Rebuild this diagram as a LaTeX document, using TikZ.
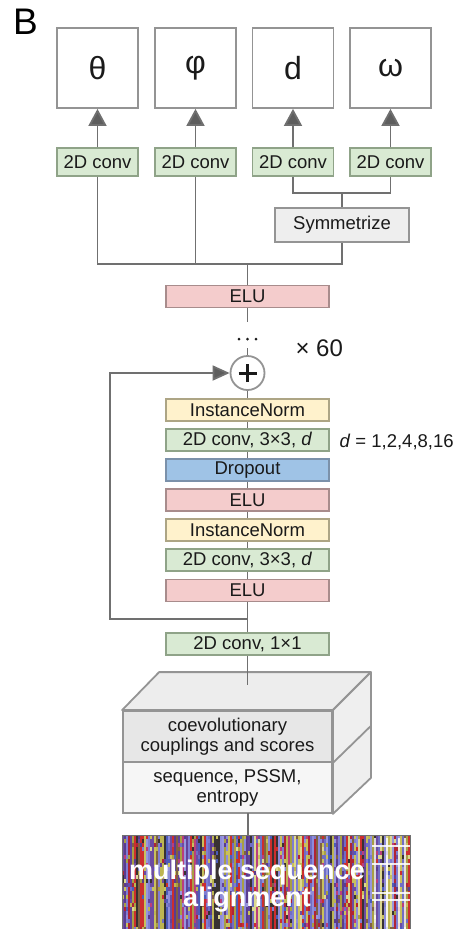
\documentclass[tikz,border=0pt]{standalone}
\usepackage{fontspec}
\setmainfont{Liberation Sans}
\usetikzlibrary{arrows.meta}

% palette
\definecolor{linegray}{HTML}{707070}
\definecolor{tipgray}{HTML}{5E5E5E}
\definecolor{boxline}{HTML}{949494}
\definecolor{convfill}{HTML}{D9EAD3}
\definecolor{convline}{HTML}{8FA388}
\definecolor{elufill}{HTML}{F4CCCC}
\definecolor{eluline}{HTML}{A88C8C}
\definecolor{normfill}{HTML}{FFF2CC}
\definecolor{normline}{HTML}{ADA585}
\definecolor{dropfill}{HTML}{9FC3E6}
\definecolor{dropline}{HTML}{7B91AA}
\definecolor{symfill}{HTML}{EEEEEE}
\definecolor{txt}{HTML}{1A1A1A}
\definecolor{cubetop}{HTML}{EDEDED}
\definecolor{cubeside}{HTML}{EFEFEF}
\definecolor{cubeupper}{HTML}{E7E7E7}
\definecolor{cubelower}{HTML}{F6F6F6}

% alignment stripe colours (repeated hues weight the draw)
\definecolor{msa1}{HTML}{7F7DD2}
\definecolor{msa2}{HTML}{8E8CDA}
\definecolor{msa3}{HTML}{706EC4}
\definecolor{msa4}{HTML}{9896DC}
\definecolor{msa5}{HTML}{BDB552}
\definecolor{msa6}{HTML}{C8C05C}
\definecolor{msa7}{HTML}{A89F44}
\definecolor{msa8}{HTML}{CC2E2E}
\definecolor{msa9}{HTML}{B02434}
\definecolor{msa10}{HTML}{383232}
\definecolor{msa11}{HTML}{5A3C8E}
\definecolor{msa12}{HTML}{62429A}
\definecolor{msa13}{HTML}{6C4CA2}
\definecolor{msa14}{HTML}{4C5CBA}
\definecolor{msa15}{HTML}{806042}
\definecolor{msa16}{HTML}{BA3E7C}
\definecolor{msa17}{HTML}{DCD890}

\tikzset{
  wire/.style={draw=linegray, line width=1.8pt},
  headarrow/.style={wire, -{Triangle[length=17pt,width=18pt,fill=tipgray]}},
  feedarrow/.style={wire, -{Triangle[length=17pt,width=15pt,fill=tipgray]}},
  outbox/.style={draw=boxline, line width=1.8pt, fill=white,
    minimum width=81pt, minimum height=80pt, inner sep=0pt,
    font=\fontsize{32}{32}\selectfont},
  layer/.style={line width=1.8pt, minimum width=163pt, minimum height=22pt,
    inner sep=0pt},
  convlayer/.style={layer, fill=convfill, draw=convline},
  elulayer/.style={layer, fill=elufill, draw=eluline},
  normlayer/.style={layer, fill=normfill, draw=normline},
  droplayer/.style={layer, fill=dropfill, draw=dropline},
  headconv/.style={convlayer, minimum width=81pt, minimum height=28pt},
  symbox/.style={line width=1.8pt, fill=symfill, draw=boxline,
    minimum width=134pt, minimum height=34pt, inner sep=0pt},
  cubeface/.style={draw=boxline, line width=1.8pt, minimum width=209pt,
    minimum height=51pt, inner sep=0pt, align=center},
}

\begin{document}
\begin{tikzpicture}[x=1pt, y=-1pt,
  every node/.append style={text=txt, font=\fontsize{18.5}{20}\selectfont}]
\useasboundingbox (0,0) rectangle (457,929);
\fill[white] (0,0) rectangle (457,929);

% panel letter
\node[anchor=north west, inner sep=0pt, font=\fontsize{37}{37}\selectfont, text=black]
  (panel) at (13,9) {B};

% output heads
\node[outbox] (theta) at (97.5,68) {θ};
\node[outbox] (phi)   at (195.5,68) {φ};
\node[outbox] (dist)  at (293,68) {d};
\node[outbox] (omega) at (390.5,68) {ω};

\node[headconv] (ct) at (97.5,162) {2D conv};
\node[headconv] (cp) at (195.5,162) {2D conv};
\node[headconv] (cd) at (293,162) {2D conv};
\node[headconv] (cw) at (390.5,162) {2D conv};

\draw[headarrow] (ct.north) -- (theta.south);
\draw[headarrow] (cp.north) -- (phi.south);
\draw[headarrow] (cd.north) -- (dist.south);
\draw[headarrow] (cw.north) -- (omega.south);

\node[symbox] (sym) at (342,225) {Symmetrize};

\coordinate (jsym) at (342,193);
\draw[wire] (cd.south) -- (cd.south |- jsym) -- (cw.south |- jsym) -- (cw.south);
\draw[wire] (jsym) -- (sym.north);

% merge of the trunk into the heads
\node[elulayer] (elu1) at (247.5,296.5) {ELU};
\coordinate (merge) at (247.5,264);
\draw[wire] (ct.south) |- (sym.south |- merge) -- (sym.south);
\draw[wire] (cp.south) -- (cp.south |- merge);
\draw[wire] (merge) -- (elu1.north);

% repeated residual block
\coordinate (dotstop) at (247.5,322);
\coordinate (dotsbot) at (247.5,348);
\draw[wire] (elu1.south) -- (dotstop);
\node[inner sep=0pt, minimum size=4pt] (dots) at (247.5,339) {};
\foreach \dx in {-8.5,0,8.5}
  \fill[txt] ([xshift=\dx pt]dots.center) circle (1.5pt);

\node[circle, draw=boxline, line width=1.8pt, fill=white, minimum size=34pt,
  inner sep=0pt] (sum) at (247.5,373) {};
\draw[txt, line width=3pt] ([xshift=-9pt]sum.center) -- ([xshift=9pt]sum.center);
\draw[txt, line width=3pt] ([yshift=-9pt]sum.center) -- ([yshift=9pt]sum.center);
\draw[wire] (dotsbot) -- (sum.north);

\node[anchor=west, font=\fontsize{24}{24}\selectfont] (times) at (292,348) {× 60};

\node[normlayer] (in1)  at (247.5,410) {InstanceNorm};
\node[convlayer] (cv1)  at (247.5,440) {2D conv, 3×3, \textit{d}};
\node[droplayer] (drop) at (247.5,470) {Dropout};
\node[elulayer]  (elu2) at (247.5,500) {ELU};
\node[normlayer] (in2)  at (247.5,530) {InstanceNorm};
\node[convlayer] (cv2)  at (247.5,560) {2D conv, 3×3, \textit{d}};
\node[elulayer]  (elu3) at (247.5,590.5) {ELU};
\node[convlayer] (cv3)  at (247.5,644) {2D conv, 1×1};

\node[anchor=west] (dil) at (336,442) {\textit{d} = 1,2,4,8,16};

\draw[wire] (sum.south) -- (in1.north);
\draw[wire] (in1.south) -- (cv1.north);
\draw[wire] (cv1.south) -- (drop.north);
\draw[wire] (drop.south) -- (elu2.north);
\draw[wire] (elu2.south) -- (in2.north);
\draw[wire] (in2.south) -- (cv2.north);
\draw[wire] (cv2.south) -- (elu3.north);
\draw[wire] (elu3.south) -- (cv3.north);

% skip connection
\coordinate (skip) at (247.5,619);
\coordinate (skipcorner) at (110,619);
\draw[feedarrow] (skip) -- (skipcorner) |- (sum.west);

% input feature block
\node[cubeface, fill=cubeupper] (coev) at (227.5,736.5)
  {coevolutionary\\couplings and scores};
\node[cubeface, fill=cubelower] (seq) at (227.5,787.5)
  {sequence, PSSM,\\entropy};
\filldraw[fill=cubetop, draw=boxline, line width=1.8pt, line join=round]
  (coev.north west) -- ([shift={(37,-38)}]coev.north west)
  -- ([shift={(38,-38)}]coev.north east) -- (coev.north east) -- cycle;
\filldraw[fill=cubeside, draw=boxline, line width=1.8pt, line join=round]
  (coev.north east) -- ([shift={(38,-38)}]coev.north east)
  -- ([shift={(38,-36)}]seq.south east) -- (seq.south east) -- cycle;
\draw[draw=boxline, line width=1.8pt] (coev.south east) -- ([shift={(38,-37)}]coev.south east);

\coordinate (cubein) at (247.5,685);
\draw[wire] (cv3.south) -- (cubein);

% multiple sequence alignment: columns of residues with sparse substitutions
\begin{scope}
  \clip (122,835) rectangle (410,929);
  \pgfmathsetseed{4711}
  \foreach \i in {0,...,143} {
    \pgfmathrandominteger{\base}{1}{17}
    \fill[msa\base] (122+2*\i, 835) rectangle ++(2,94);
    \foreach \j in {0,...,23} {
      \pgfmathrandominteger{\r}{1}{20}
      \ifnum\r>16
        \pgfmathrandominteger{\c}{1}{17}
        \fill[msa\c] (122+2*\i, 835+4*\j) rectangle ++(2,4);
      \fi
    }
  }
  % gap rows and columns near the right edge
  \foreach \xx in {374,386,398,404}
    \fill[white, opacity=0.8] (\xx,838) rectangle (\xx+2,929);
  \foreach \yy in {845,863,892,899}
    \fill[white, opacity=0.85] (372,\yy) rectangle (410,\yy+2);
\end{scope}
\node[draw=linegray, line width=1pt, minimum width=288pt, minimum height=94pt,
  inner sep=0pt] (msa) at (266,882) {};
\node[align=center, text=white, font=\bfseries\fontsize{27}{27}\selectfont]
  (msalabel) at (247,886) {multiple sequence\\alignment};

\coordinate (cubeout) at (248,813);
\draw[wire] (cubeout) -- (cubeout |- msa.north);
\end{tikzpicture}
\end{document}
